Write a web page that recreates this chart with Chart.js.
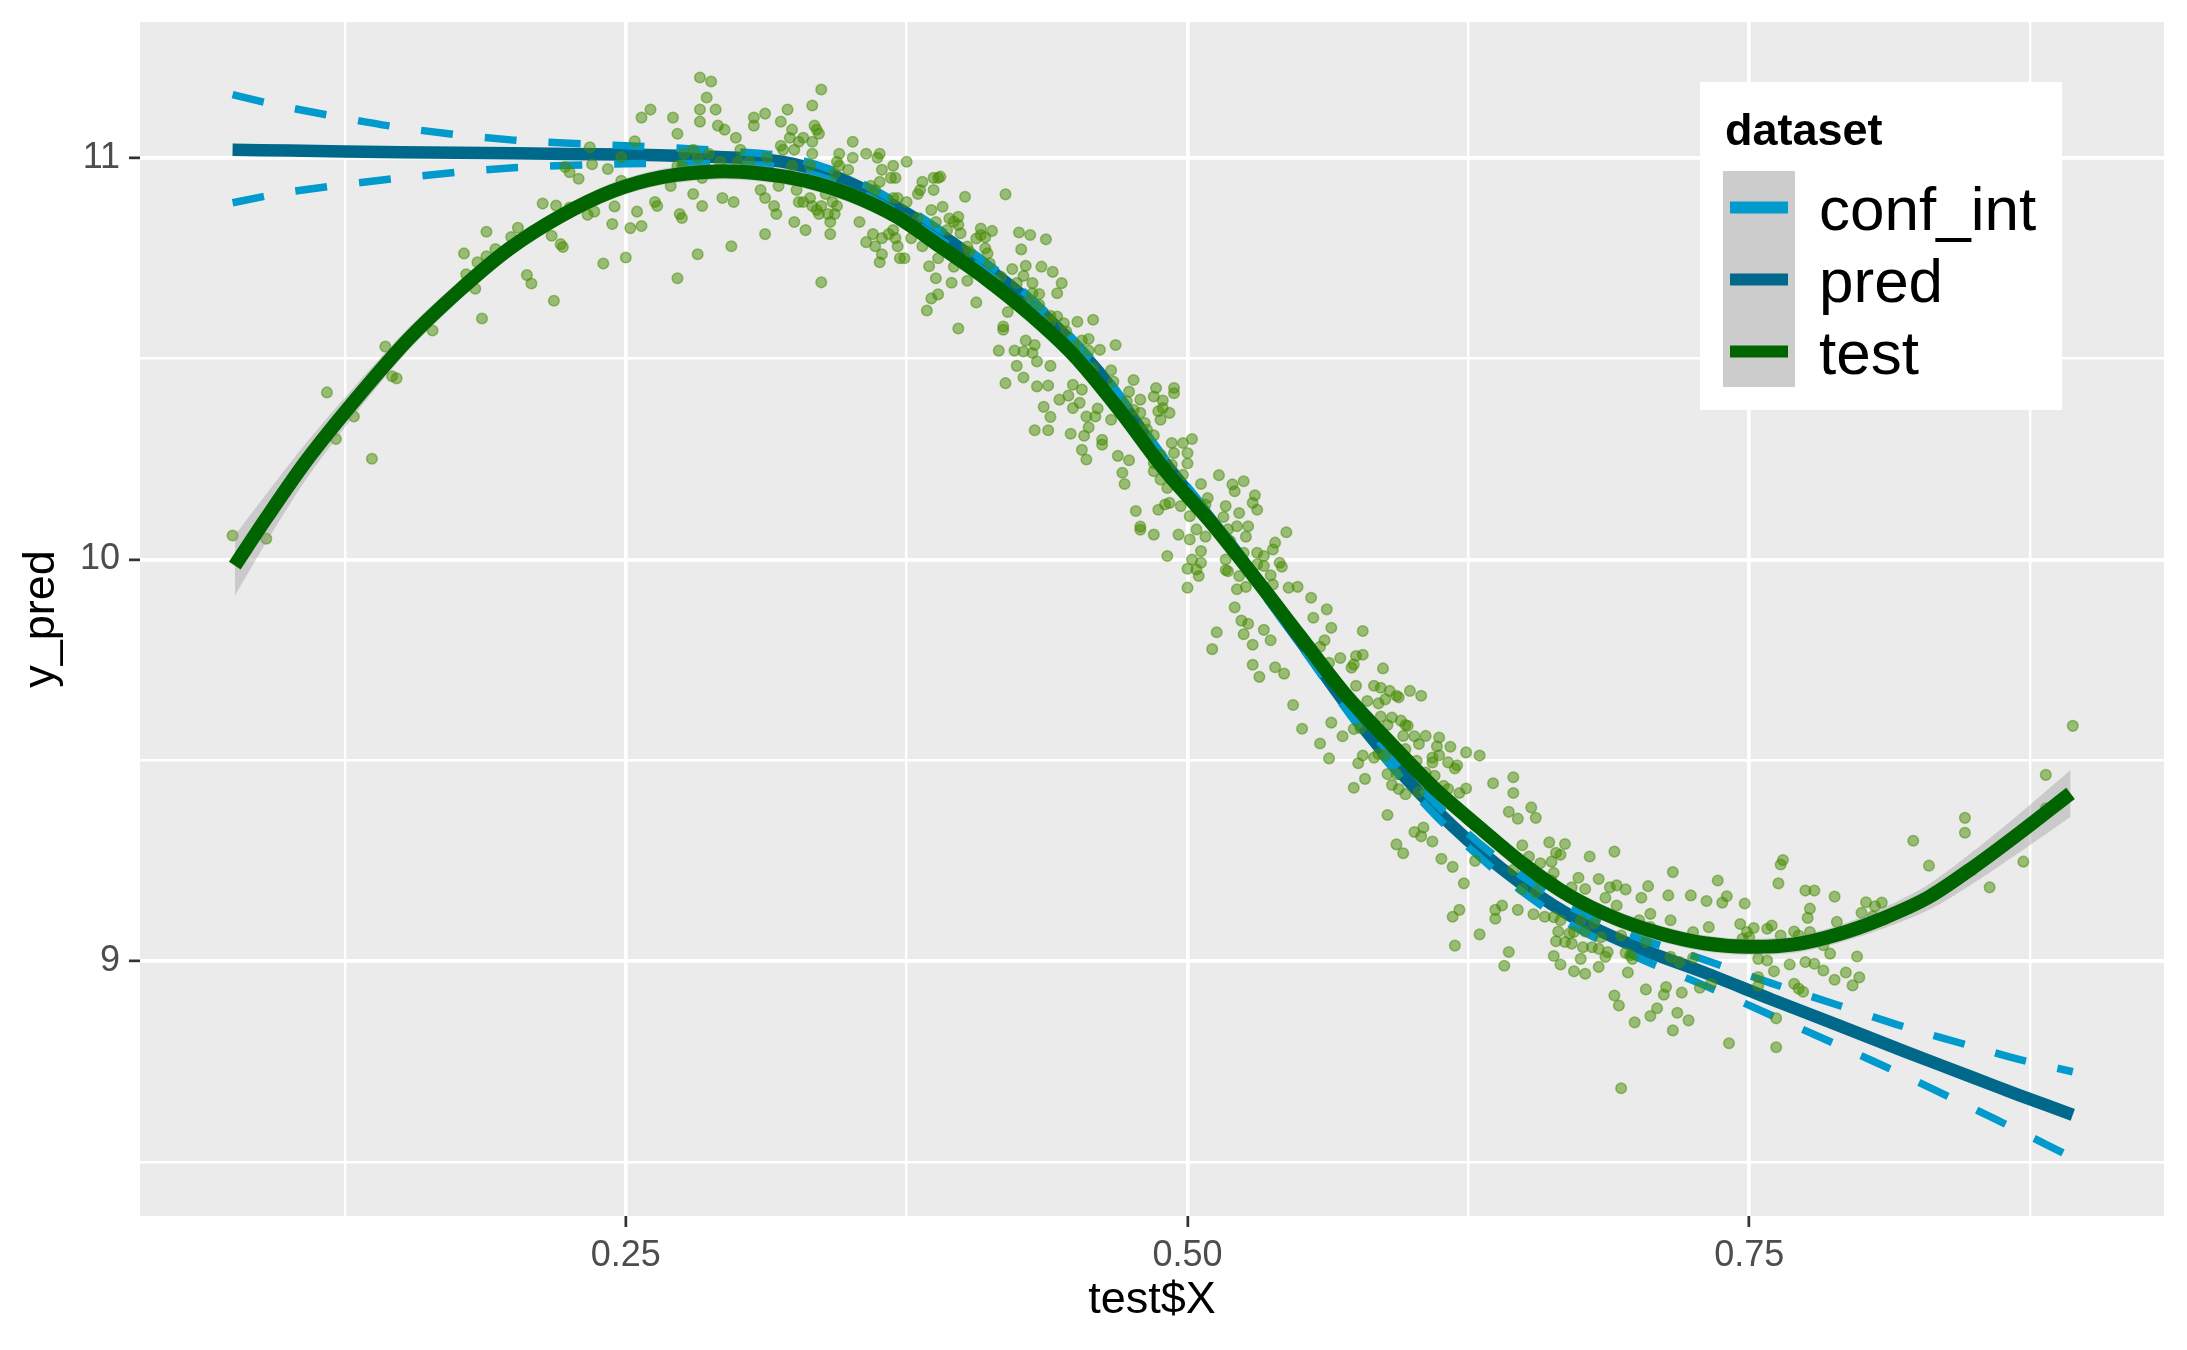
<!DOCTYPE html>
<html>
<head>
<meta charset="utf-8">
<script src="https://cdn.jsdelivr.net/npm/chart.js@4.4.1/dist/chart.umd.min.js"></script>
<style>
  html, body { margin: 0; padding: 0; background: #ffffff; }
  #wrap { width: 2187px; height: 1350px; }
</style>
</head>
<body>
<div id="wrap"><canvas id="chart"></canvas></div>
<script>
// axis ranges and ticks
const xLimits = [0.0338, 0.9346];
const yLimits = [8.366, 11.338];
const xTicks = [0.125, 0.25, 0.375, 0.5, 0.625, 0.75, 0.875];
const xTickLabels = ['', '0.25', '', '0.50', '', '0.75', ''];
const yTicks = [8.5, 9, 9.5, 10, 10.5, 11];
const yTickLabels = ['', '9', '', '10', '', '11'];

// smooth fitted to the test points, with its standard error band
const testX = [0.076, 0.09, 0.108, 0.13, 0.153, 0.176, 0.198, 0.221, 0.244, 0.266, 0.29, 0.31, 0.33, 0.35, 0.37, 0.39, 0.41, 0.43, 0.45, 0.47, 0.49, 0.51, 0.53, 0.55, 0.57, 0.59, 0.61, 0.63, 0.65, 0.67, 0.69, 0.71, 0.73, 0.75, 0.77, 0.79, 0.81, 0.83, 0.85, 0.87, 0.893];
const testY = [9.985, 10.103, 10.247, 10.40, 10.547, 10.67, 10.773, 10.855, 10.917, 10.952, 10.966, 10.961, 10.943, 10.908, 10.855, 10.779, 10.70, 10.61, 10.505, 10.37, 10.222, 10.095, 9.955, 9.81, 9.666, 9.545, 9.43, 9.333, 9.24, 9.163, 9.108, 9.07, 9.045, 9.036, 9.042, 9.068, 9.108, 9.16, 9.235, 9.318, 9.418];
const testLow = [9.91, 10.043, 10.202, 10.365, 10.519, 10.646, 10.751, 10.835, 10.897, 10.932, 10.946, 10.941, 10.923, 10.888, 10.835, 10.759, 10.68, 10.59, 10.485, 10.35, 10.202, 10.075, 9.935, 9.79, 9.646, 9.525, 9.41, 9.313, 9.22, 9.143, 9.088, 9.05, 9.025, 9.016, 9.021, 9.046, 9.082, 9.128, 9.195, 9.27, 9.36];
const testHigh = [10.06, 10.163, 10.292, 10.435, 10.575, 10.694, 10.795, 10.875, 10.937, 10.972, 10.986, 10.981, 10.963, 10.928, 10.875, 10.799, 10.72, 10.63, 10.525, 10.39, 10.242, 10.115, 9.975, 9.83, 9.686, 9.565, 9.45, 9.353, 9.26, 9.183, 9.128, 9.09, 9.065, 9.056, 9.063, 9.09, 9.134, 9.192, 9.275, 9.366, 9.476];

// model prediction and its confidence interval
const predX = [0.075, 0.10, 0.15, 0.20, 0.25, 0.28, 0.30, 0.32, 0.34, 0.36, 0.38, 0.40, 0.43, 0.46, 0.49, 0.52, 0.55, 0.58, 0.61, 0.64, 0.67, 0.70, 0.73, 0.76, 0.79, 0.82, 0.85, 0.87, 0.894];
const predY = [11.02, 11.018, 11.014, 11.011, 11.008, 11.004, 11.0, 10.99, 10.96, 10.91, 10.845, 10.77, 10.64, 10.47, 10.24, 10.03, 9.80, 9.57, 9.38, 9.23, 9.115, 9.035, 8.972, 8.905, 8.84, 8.774, 8.71, 8.667, 8.618];
const confHigh = [11.157, 11.125, 11.075, 11.044, 11.03, 11.022, 11.015, 11.004, 10.973, 10.922, 10.857, 10.782, 10.652, 10.482, 10.252, 10.042, 9.812, 9.583, 9.395, 9.248, 9.137, 9.06, 9.004, 8.945, 8.89, 8.835, 8.787, 8.756, 8.725];
const confLow = [10.888, 10.915, 10.95, 10.975, 10.985, 10.986, 10.984, 10.976, 10.947, 10.898, 10.833, 10.758, 10.628, 10.458, 10.228, 10.018, 9.788, 9.557, 9.365, 9.212, 9.093, 9.01, 8.94, 8.865, 8.79, 8.713, 8.633, 8.578, 8.511];

// test points [x, y]
const testPoints = [
  [0.075,10.06],[0.090,10.052],[0.117,10.416],[0.129,10.356],[0.121,10.30],[0.137,10.251],[0.143,10.53],[0.146,10.456],[0.148,10.451],[0.164,10.57],
  [0.186,10.60],[0.178,10.762],[0.179,10.71],[0.183,10.674],[0.184,10.74],[0.188,10.755],[0.188,10.816],[0.192,10.773],[0.199,10.803],[0.202,10.826],
  [0.206,10.708],[0.208,10.687],[0.218,10.644],[0.213,10.886],[0.219,10.881],[0.217,10.806],[0.221,10.785],[0.222,10.778],[0.225,10.876],[0.223,10.977],
  [0.225,10.964],[0.229,10.948],[0.234,11.026],[0.235,10.984],[0.242,10.972],[0.248,11.002],[0.248,10.943],[0.236,10.866],[0.233,10.858],[0.245,10.879],
  [0.244,10.835],[0.252,10.825],[0.240,10.737],[0.250,10.752],[0.255,10.866],[0.254,11.041],
  [0.257,11.10],[0.261,11.12],[0.257,10.83],[0.271,11.10],[0.273,11.06],[0.283,11.20],[0.288,11.19],[0.286,11.15],[0.283,11.12],[0.283,11.09],
  [0.290,11.12],[0.291,11.08],[0.294,11.07],[0.299,11.05],[0.307,11.10],[0.312,11.11],[0.307,11.08],[0.322,11.12],[0.319,11.09],[0.333,11.13],
  [0.337,11.17],[0.324,11.07],[0.323,11.05],[0.329,11.05],[0.327,11.04],[0.334,11.08],[0.335,11.07],[0.336,11.06],[0.333,11.04],[0.319,11.03],
  [0.320,11.02],[0.325,11.02],[0.333,11.01],[0.345,11.01],[0.351,11.04],[0.357,11.01],[0.363,11.01],[0.362,11.00],[0.375,10.99],[0.351,11.00],
  [0.344,10.99],[0.345,10.98],[0.343,10.96],[0.349,10.97],[0.364,10.97],[0.369,10.98],[0.368,10.95],[0.370,10.95],[0.276,11.01],[0.280,11.02],
  [0.282,11.00],[0.287,11.01],[0.292,10.99],[0.301,11.02],[0.300,10.99],[0.305,10.99],[0.313,11.00],[0.324,10.98],[0.332,10.98],[0.273,10.98],
  [0.275,10.98],[0.284,10.95],[0.270,10.93],[0.280,10.91],[0.263,10.89],[0.264,10.88],[0.274,10.86],[0.275,10.85],[0.284,10.88],[0.293,10.90],
  [0.298,10.89],[0.310,10.92],[0.312,10.90],[0.318,10.93],[0.316,10.88],[0.317,10.86],[0.326,10.92],[0.327,10.89],[0.329,10.89],[0.332,10.90],
  [0.333,10.88],[0.335,10.87],[0.336,10.86],[0.339,10.91],[0.337,10.88],[0.342,10.89],[0.344,10.88],[0.340,10.86],[0.343,10.86],[0.341,10.84],
  [0.325,10.84],[0.330,10.82],[0.341,10.81],[0.312,10.81],[0.297,10.78],[0.282,10.76],[0.273,10.70],[0.337,10.69],[0.354,10.84],[0.359,10.93],
  [0.363,10.94],[0.361,10.92],[0.369,10.90],[0.371,10.90],[0.375,10.89],[0.374,10.85],[0.381,10.92],[0.380,10.91],[0.382,10.94],[0.387,10.95],
  [0.387,10.92],[0.389,10.95],[0.386,10.87],[0.388,10.84],[0.380,10.85],[0.360,10.81],[0.357,10.79],[0.361,10.78],[0.364,10.80],[0.364,10.76],
  [0.363,10.74],[0.369,10.82],[0.367,10.81],[0.370,10.80],[0.371,10.78],[0.372,10.75],[0.374,10.75],[0.377,10.80],[0.382,10.78],[0.385,10.73],
  [0.389,10.75],[0.386,10.65],[0.384,10.62],[0.388,10.70],[0.389,10.66],
  [0.390,10.953],[0.391,10.878],[0.401,10.903],[0.419,10.909],[0.394,10.849],[0.396,10.841],[0.398,10.853],[0.398,10.833],[0.399,10.812],[0.393,10.820],
  [0.408,10.824],[0.408,10.808],[0.413,10.818],[0.406,10.799],[0.410,10.802],[0.410,10.775],[0.411,10.762],[0.402,10.779],[0.403,10.766],[0.412,10.737],
  [0.425,10.814],[0.430,10.808],[0.437,10.797],[0.426,10.772],[0.396,10.729],[0.395,10.689],[0.402,10.694],[0.406,10.640],[0.398,10.575],
  [0.417,10.704],[0.422,10.723],[0.428,10.731],[0.435,10.729],[0.440,10.716],[0.444,10.688],[0.442,10.663],[0.424,10.688],[0.427,10.706],[0.431,10.688],
  [0.431,10.663],[0.434,10.661],[0.434,10.634],[0.429,10.642],[0.420,10.616],[0.418,10.580],[0.418,10.572],[0.439,10.607],[0.439,10.592],[0.442,10.605],
  [0.445,10.588],[0.446,10.568],[0.451,10.592],[0.458,10.597],[0.453,10.545],[0.456,10.549],[0.461,10.522],[0.468,10.534],[0.449,10.530],[0.450,10.518],
  [0.456,10.520],[0.428,10.545],[0.432,10.534],[0.416,10.520],[0.423,10.520],[0.427,10.518],[0.431,10.514],[0.433,10.493],[0.439,10.482],[0.424,10.482],
  [0.427,10.453],[0.419,10.439],[0.433,10.431],[0.438,10.433],[0.449,10.435],[0.447,10.408],[0.453,10.423],[0.452,10.390],[0.458,10.476],[0.466,10.471],
  [0.467,10.443],[0.443,10.398],[0.449,10.377],[0.436,10.380],[0.439,10.355],[0.432,10.322],[0.438,10.322],[0.448,10.313],[0.455,10.356],[0.459,10.356],
  [0.460,10.376],[0.466,10.348],[0.456,10.329],[0.454,10.308],[0.462,10.298],[0.462,10.286],[0.476,10.447],[0.474,10.418],[0.479,10.398],[0.473,10.394],
  [0.476,10.373],[0.479,10.365],[0.486,10.427],[0.485,10.406],[0.494,10.427],[0.494,10.414],[0.489,10.377],[0.492,10.365],[0.488,10.348],[0.481,10.340],
  [0.482,10.323],[0.485,10.309],[0.493,10.290],[0.498,10.290],[0.502,10.300],
  [0.453,10.273],[0.455,10.249],[0.469,10.258],[0.474,10.247],[0.471,10.216],[0.472,10.188],[0.477,10.121],[0.479,10.082],[0.479,10.074],
  [0.489,10.396],[0.487,10.369],[0.494,10.265],[0.500,10.265],[0.500,10.239],[0.493,10.236],[0.488,10.261],[0.485,10.240],[0.485,10.220],[0.488,10.199],
  [0.491,10.178],[0.498,10.211],[0.506,10.188],[0.514,10.210],[0.520,10.187],[0.525,10.195],[0.521,10.170],[0.530,10.160],[0.529,10.141],[0.531,10.124],
  [0.509,10.153],[0.508,10.137],[0.517,10.133],[0.516,10.106],[0.523,10.116],[0.487,10.124],[0.490,10.137],[0.492,10.141],[0.497,10.133],[0.501,10.108],
  [0.485,10.062],[0.496,10.062],[0.501,10.050],[0.504,10.075],[0.508,10.057],[0.518,10.075],[0.522,10.083],[0.527,10.083],[0.526,10.057],[0.519,10.046],
  [0.506,10.021],[0.502,10.000],[0.506,9.992],[0.500,9.977],[0.504,9.975],[0.505,9.959],[0.491,10.009],[0.500,9.930],[0.517,10.000],[0.517,9.974],
  [0.518,9.971],[0.525,10.017],[0.531,10.017],[0.534,10.009],[0.531,9.988],[0.534,9.984],[0.539,10.042],[0.538,10.025],[0.544,10.068],[0.541,9.992],
  [0.542,9.982],[0.537,9.961],[0.538,9.938],[0.545,9.930],[0.549,9.932],[0.522,9.926],[0.526,9.932],[0.555,9.905],[0.523,9.959],
  [0.521,9.881],[0.524,9.848],[0.527,9.840],[0.534,9.825],[0.537,9.799],[0.562,9.876],[0.556,9.855],[0.564,9.830],[0.561,9.799],[0.559,9.783],
  [0.513,9.819],[0.525,9.814],[0.529,9.788],
  [0.511,9.777],[0.529,9.738],[0.532,9.708],[0.539,9.732],[0.543,9.716],[0.547,9.638],[0.551,9.579],[0.559,9.542],[0.563,9.505],[0.564,9.594],
  [0.569,9.560],[0.563,9.743],[0.568,9.755],[0.589,9.364],[0.593,9.291],
  [0.596,9.269],[0.601,9.322],[0.604,9.311],[0.609,9.298],[0.605,9.333],[0.613,9.255],[0.618,9.235],[0.623,9.194],[0.618,9.111],[0.621,9.128],
  [0.619,9.039],[0.630,9.067],[0.628,9.250],
  [0.578,9.822],[0.575,9.760],[0.578,9.763],[0.574,9.739],[0.573,9.731],[0.587,9.729],[0.575,9.686],[0.583,9.686],[0.586,9.681],[0.590,9.673],
  [0.588,9.652],[0.593,9.661],[0.594,9.657],[0.599,9.673],[0.604,9.661],[0.585,9.642],[0.580,9.648],[0.586,9.609],[0.591,9.607],[0.589,9.588],
  [0.595,9.599],[0.597,9.588],[0.598,9.586],[0.596,9.561],[0.601,9.560],[0.603,9.541],[0.606,9.561],[0.612,9.557],[0.611,9.535],[0.617,9.534],
  [0.612,9.513],[0.609,9.507],[0.609,9.495],[0.616,9.495],[0.620,9.488],[0.619,9.480],[0.624,9.520],[0.630,9.512],[0.645,9.458],[0.636,9.443],
  [0.645,9.419],[0.624,9.430],[0.621,9.419],[0.574,9.578],[0.578,9.512],[0.576,9.493],[0.583,9.507],[0.585,9.516],[0.588,9.512],[0.597,9.528],
  [0.602,9.499],[0.589,9.466],[0.593,9.466],[0.579,9.454],[0.574,9.432],[0.591,9.439],[0.594,9.429],[0.597,9.416],[0.603,9.421],[0.610,9.462],
  [0.614,9.437],[0.616,9.429],[0.606,9.470],[0.577,9.580],
  [0.643,9.372],[0.647,9.355],[0.653,9.383],[0.655,9.357],[0.637,9.128],[0.640,9.139],[0.637,9.106],[0.641,8.989],[0.643,9.023],[0.647,9.128],
  [0.649,9.180],[0.655,9.172],[0.657,9.200],[0.654,9.117],[0.659,9.111],[0.649,9.289],[0.652,9.261],[0.657,9.244],[0.645,9.228],
  [0.661,9.296],[0.668,9.292],[0.664,9.270],[0.666,9.265],[0.662,9.248],[0.679,9.261],[0.690,9.273],[0.663,9.220],[0.662,9.201],[0.674,9.208],
  [0.683,9.205],[0.671,9.184],[0.677,9.180],[0.688,9.184],[0.691,9.189],[0.695,9.179],[0.705,9.187],[0.686,9.158],[0.702,9.158],[0.691,9.139],
  [0.706,9.118],[0.716,9.222],[0.736,9.201],[0.714,9.164],[0.724,9.164],[0.731,9.150],[0.740,9.162],[0.738,9.146],[0.748,9.144],[0.765,9.252],
  [0.764,9.241],[0.763,9.194],[0.775,9.176],[0.779,9.176],[0.788,9.161],[0.777,9.131],[0.776,9.108],[0.789,9.098],[0.666,9.102],[0.663,9.110],
  [0.665,9.074],[0.670,9.069],[0.672,9.073],[0.668,9.048],[0.664,9.050],[0.671,9.044],[0.675,9.102],[0.681,9.095],[0.677,9.074],[0.676,9.035],
  [0.680,9.035],[0.684,9.060],[0.683,9.031],[0.687,9.023],[0.686,9.011],[0.663,9.013],[0.666,8.992],[0.675,9.006],[0.683,8.986],[0.672,8.975],
  [0.677,8.969],[0.696,8.972],[0.695,9.021],[0.697,9.015],[0.698,9.006],[0.693,9.064],[0.701,9.102],[0.706,9.085],[0.704,9.048],[0.715,9.102],
  [0.725,9.073],[0.715,9.011],[0.719,8.998],[0.725,9.008],[0.732,9.085],[0.746,9.093],[0.749,9.073],[0.752,9.083],[0.750,9.060],[0.747,9.056],
  [0.758,9.081],[0.760,9.089],[0.764,9.064],[0.770,9.074],[0.772,9.064],[0.777,9.073],[0.783,9.040],[0.786,9.019],[0.754,9.006],[0.758,9.002],
  [0.768,8.992],[0.775,8.998],[0.779,8.994],[0.761,8.975],[0.754,8.961],[0.754,8.939],[0.770,8.944],[0.772,8.932],[0.774,8.924],[0.783,8.977],
  [0.788,8.954],[0.793,8.972],[0.704,8.930],[0.713,8.936],[0.712,8.917],[0.720,8.922],[0.728,8.934],[0.733,8.944],[0.690,8.915],
  [0.882,9.464],[0.846,9.357],[0.846,9.320],[0.823,9.300],[0.830,9.238],[0.872,9.248],[0.857,9.184],[0.802,9.147],[0.806,9.137],[0.809,9.146],
  [0.800,9.121],[0.805,9.112],[0.798,9.012],[0.799,8.960],[0.796,8.940],[0.849,9.226],[0.882,9.381],[0.894,9.586],
  [0.693,8.684],[0.699,8.848],[0.706,8.864],[0.716,8.828],[0.709,8.883],[0.723,8.853],[0.718,8.872],[0.741,8.796],[0.762,8.786],[0.762,8.858],[0.692,8.890]
];

const legendTitle = 'dataset';
const legendNames = ['conf_int', 'pred', 'test'];
const legendColors = ['#009ACD', '#00688B', '#006400'];

const FONT = '"Liberation Sans", Arial, Helvetica, sans-serif';

function toXY(xs, ys) {
    return xs.map((x, i) => ({ x: x, y: ys[i] }));
}

const panelBackground = {
    id: 'panelBackground',
    beforeDraw(chart) {
        const { ctx, chartArea } = chart;
        ctx.save();
        ctx.fillStyle = '#EBEBEB';
        ctx.fillRect(chartArea.left, chartArea.top, chartArea.right - chartArea.left, chartArea.bottom - chartArea.top);
        ctx.restore();
    }
};

// ggplot style legend box inside the panel
const ggLegend = {
    id: 'ggLegend',
    afterDraw(chart) {
        const ctx = chart.ctx;
        ctx.save();
        ctx.fillStyle = '#FFFFFF';
        ctx.fillRect(1700, 82, 362, 328);
        ctx.fillStyle = '#000000';
        ctx.font = 'bold 45px ' + FONT;
        ctx.textBaseline = 'alphabetic';
        ctx.textAlign = 'left';
        ctx.fillText(legendTitle, 1725, 145);
        ctx.fillStyle = '#CCCCCC';
        ctx.fillRect(1723, 171, 72, 216);
        ctx.font = '62px ' + FONT;
        legendNames.forEach((name, i) => {
            const cy = 207.5 + i * 72;
            ctx.fillStyle = legendColors[i];
            ctx.fillRect(1730, cy - 6, 58, 12);
            ctx.fillStyle = '#000000';
            ctx.fillText(name, 1819, cy + 22.5);
        });
        ctx.restore();
    }
};

const chart = new Chart(document.getElementById('chart'), {
    type: 'line',
    data: {
        datasets: [
            {
                label: 'test',
                data: toXY(testX, testY),
                borderColor: '#006400',
                borderWidth: 14,
                borderCapStyle: 'butt',
                pointRadius: 0,
                tension: 0.3,
                fill: false,
                order: 0
            },
            {
                label: 'test se upper',
                data: toXY(testX, testHigh),
                borderColor: 'rgba(0,0,0,0)',
                borderWidth: 1,
                backgroundColor: 'rgba(153,153,153,0.4)',
                pointRadius: 0,
                tension: 0.3,
                fill: 2,
                order: 1
            },
            {
                label: 'test se lower',
                data: toXY(testX, testLow),
                borderColor: 'rgba(0,0,0,0)',
                borderWidth: 1,
                pointRadius: 0,
                tension: 0.3,
                fill: false,
                order: 1
            },
            {
                label: 'test points',
                data: testPoints.map(p => ({ x: p[0], y: p[1] })),
                showLine: false,
                pointRadius: 5.3,
                pointBorderWidth: 1.5,
                pointBackgroundColor: 'rgba(69,139,0,0.5)',
                pointBorderColor: 'rgba(69,139,0,0.5)',
                order: 2
            },
            {
                label: 'conf_int upper',
                data: toXY(predX, confHigh),
                borderColor: '#009ACD',
                borderWidth: 7.5,
                borderDash: [32, 32],
                borderCapStyle: 'butt',
                pointRadius: 0,
                tension: 0.3,
                fill: false,
                order: 3
            },
            {
                label: 'conf_int lower',
                data: toXY(predX, confLow),
                borderColor: '#009ACD',
                borderWidth: 7.5,
                borderDash: [32, 32],
                borderCapStyle: 'butt',
                pointRadius: 0,
                tension: 0.3,
                fill: false,
                order: 3
            },
            {
                label: 'pred',
                data: toXY(predX, predY),
                borderColor: '#00688B',
                borderWidth: 12.5,
                borderCapStyle: 'butt',
                pointRadius: 0,
                tension: 0.3,
                fill: false,
                order: 4
            }
        ]
    },
    options: {
        responsive: true,
        maintainAspectRatio: false,
        devicePixelRatio: 1,
        animation: false,
        events: [],
        layout: { padding: { top: 22, right: 23, left: 0, bottom: 0 } },
        plugins: {
            legend: { display: false },
            tooltip: { enabled: false }
        },
        scales: {
            x: {
                type: 'linear',
                min: xLimits[0],
                max: xLimits[1],
                afterBuildTicks: scale => { scale.ticks = xTicks.map(v => ({ value: v })); },
                afterFit: scale => { scale.height = 134; scale.paddingLeft = 0; scale.paddingRight = 0; },
                border: { display: false },
                grid: {
                    color: '#FFFFFF',
                    lineWidth: c => (xTickLabels[c.index] ? 3.7 : 2.4),
                    drawTicks: true,
                    tickLength: 11,
                    tickWidth: 2.7,
                    tickColor: c => (xTickLabels[c.index] ? '#333333' : 'rgba(0,0,0,0)')
                },
                ticks: {
                    autoSkip: false,
                    maxRotation: 0,
                    padding: 7,
                    color: '#4D4D4D',
                    font: { family: FONT, size: 36 },
                    callback: (v, i) => xTickLabels[i]
                },
                title: {
                    display: true,
                    text: 'test$X',
                    color: '#000000',
                    font: { family: FONT, size: 45 },
                    padding: { top: 0, bottom: 22 }
                }
            },
            y: {
                type: 'linear',
                min: yLimits[0],
                max: yLimits[1],
                afterBuildTicks: scale => { scale.ticks = yTicks.map(v => ({ value: v })); },
                afterFit: scale => { scale.width = 140; scale.paddingTop = 0; scale.paddingBottom = 0; },
                border: { display: false },
                grid: {
                    color: '#FFFFFF',
                    lineWidth: c => (yTickLabels[c.index] ? 3.7 : 2.4),
                    drawTicks: true,
                    tickLength: 11,
                    tickWidth: 2.7,
                    tickColor: c => (yTickLabels[c.index] ? '#333333' : 'rgba(0,0,0,0)')
                },
                ticks: {
                    autoSkip: false,
                    padding: 9,
                    color: '#4D4D4D',
                    font: { family: FONT, size: 36 },
                    callback: (v, i) => yTickLabels[i]
                },
                title: {
                    display: true,
                    text: 'y_pred',
                    color: '#000000',
                    font: { family: FONT, size: 45 },
                    padding: { top: 15, bottom: 0 }
                }
            }
        }
    },
    plugins: [panelBackground, ggLegend]
});
</script>
</body>
</html>
